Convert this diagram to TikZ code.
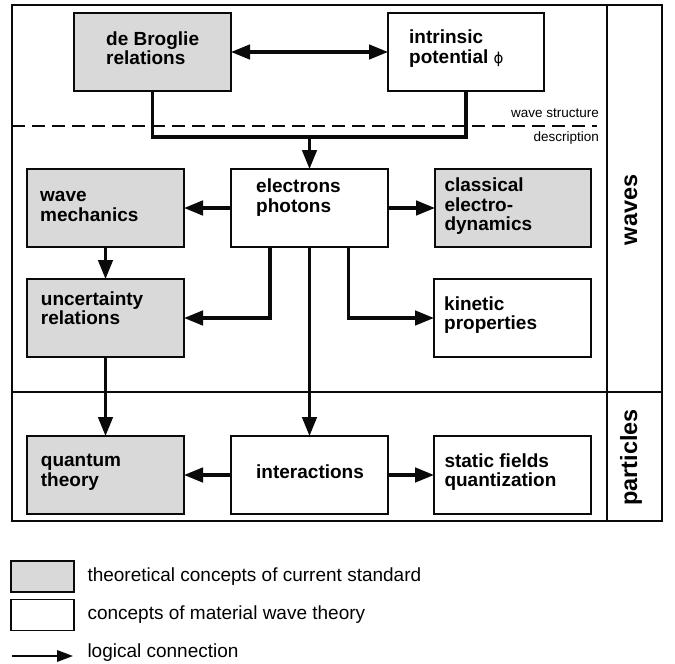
\documentclass[tikz,border=0pt]{standalone}
\usepackage{fontspec}
\setmainfont{Liberation Sans}
\newfontfamily\symfnt{DejaVu Sans}
\usetikzlibrary{arrows.meta}
\definecolor{boxgray}{RGB}{217,217,217}
\definecolor{ink}{RGB}{10,10,10}
\newcommand\boxtxt[1]{\begin{tabular}[t]{@{}l@{}}#1\end{tabular}}
\begin{document}
\begin{tikzpicture}[x=1pt,y=-1pt,
  box/.style={draw=ink, line width=1.2pt, minimum width=157pt, minimum height=78pt, inner sep=0pt, outer sep=0pt},
  gbox/.style={box, fill=boxgray},
  wbox/.style={box, fill=white},
  txt/.style={anchor=base west, inner sep=0pt, font=\fontsize{19}{19.5}\selectfont\bfseries},
  conn/.style={draw=ink, line width=3.1pt},
  arr/.style={conn, -{Triangle[length=19pt,width=14.5pt]}},
  darr/.style={conn, {Triangle[length=19pt,width=14.5pt]}-{Triangle[length=19pt,width=14.5pt]}},
  frame/.style={draw=ink, line width=1.3pt},
  rot/.style={rotate=90, anchor=base, inner sep=0pt, font=\fontsize{23.5}{24}\selectfont\bfseries},
  small/.style={anchor=base east, inner sep=0pt, font=\fontsize{13.5}{14}\selectfont},
  legbox/.style={draw=ink, line width=1.1pt, minimum width=63pt, minimum height=31pt, inner sep=0pt, outer sep=0pt},
  legtxt/.style={anchor=base west, inner sep=0pt, font=\fontsize{19}{20}\selectfont},
  legarr/.style={draw=ink, line width=1.8pt, -{Triangle[length=16pt,width=11.5pt]}}
]
\useasboundingbox[fill=white] (0,0) rectangle (675,664);

% frame
\draw[frame] (12,5) rectangle (662,521);
\draw[frame] (607,5) -- (607,521);
\draw[frame] (12,392) -- (662,392);
\draw[frame, dash pattern=on 13pt off 7pt] (12,126) -- (597,126);

% boxes
\node[gbox] (db) at (152.5,52) {};
\node[wbox, minimum width=156pt] (ip) at (466,52) {};
\node[wbox] (ep) at (309.5,208) {};
\node[gbox] (wm) at (105.5,208) {};
\node[gbox, minimum width=156pt] (cd) at (513,208) {};
\node[gbox] (ur) at (105.5,318) {};
\node[wbox] (kp) at (512.5,318) {};
\node[gbox] (qt) at (105.5,475) {};
\node[wbox] (ia) at (309.5,475) {};
\node[wbox] (sf) at (512.5,475) {};

% box texts
\node[txt] (tdb) at (106,45) {\boxtxt{de Broglie\\relations}};
\node[txt] (tip) at (409,43.5) {\boxtxt{intrinsic\\potential {\symfnt\mdseries\fontsize{15}{19.5}\selectfont ϕ}}};
\node[txt] (tep) at (256,192.7) {\boxtxt{electrons\\photons}};
\node[txt] (twm) at (40,201.7) {\boxtxt{wave\\mechanics}};
\node[txt] (tcd) at (444.3,191.7) {\boxtxt{classical\\electro-\\dynamics}};
\node[txt] (tur) at (40.7,305) {\boxtxt{uncertainty\\relations}};
\node[txt] (tkp) at (444,310) {\boxtxt{kinetic\\properties}};
\node[txt] (tqt) at (40.7,466.7) {\boxtxt{quantum\\theory}};
\node[txt] (tia) at (256,478.3) {interactions};
\node[txt] (tsf) at (444.3,467.3) {\boxtxt{static fields\\quantization}};

% side labels
\node[rot] (lwaves) at (637,210) {waves};
\node[rot] (lpart) at (637,457.5) {particles};
\node[small] (lws) at (599,117) {wave structure};
\node[small] (lds) at (599,141.7) {description};

% connectors
\draw[darr] (db.east) -- (ip.west);
\draw[conn] (db.south) -- ++(0,46) -| (ip.south);
\coordinate (jn) at (309.5,137);
\draw[arr] (jn) -- (ep.north);
\draw[arr] (ep.west) -- (wm.east);
\draw[arr] (ep.east) -- (cd.west);
\draw[arr] (wm.south) -- (ur.north);
\draw[arr] ([xshift=-39.5pt]ep.south) |- (ur.east);
\draw[arr] ([xshift=39pt]ep.south) |- (kp.west);
\draw[arr] (ep.south) -- (ia.north);
\draw[arr] (ur.south) -- (qt.north);
\draw[arr] (ia.west) -- (qt.east);
\draw[arr] (ia.east) -- (sf.west);

% legend
\node[legbox, fill=boxgray] (lg1) at (42.5,576.5) {};
\node[legbox, fill=white] (lg2) at (42.5,615.3) {};
\coordinate (la) at (12,656);
\coordinate (lb) at (73,656);
\draw[legarr] (la) -- (lb);
\node[legtxt] (lt1) at (87.3,581.7) {theoretical concepts of current standard};
\node[legtxt] (lt2) at (87.3,619.3) {concepts of material wave theory};
\node[legtxt] (lt3) at (87.3,657.3) {logical connection};
\end{tikzpicture}
\end{document}
